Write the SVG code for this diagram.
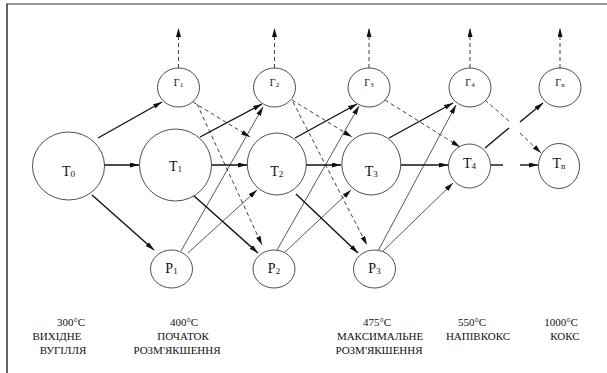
<svg xmlns="http://www.w3.org/2000/svg" width="607" height="373" viewBox="0 0 607 373">
<style>
.nd{fill:#fff;stroke:#222;stroke-width:0.8}
.lb{font-family:"Liberation Serif","DejaVu Serif",serif;fill:#111;text-anchor:middle}
.big{font-size:14px}
.sm{font-size:10px}
.tx{font-family:"Liberation Serif","DejaVu Serif",serif;font-size:11px;fill:#111;text-anchor:middle}
.thick{stroke:#111;stroke-width:1.4;fill:none}
.thin{stroke:#111;stroke-width:0.7;fill:none}
.dash{stroke:#111;stroke-width:0.8;fill:none;stroke-dasharray:4 3}
</style>
<defs>
<marker id="ah" markerUnits="userSpaceOnUse" markerWidth="10" markerHeight="6" refX="9" refY="2.5" orient="auto"><path d="M0,0 L9,2.5 L0,5 Z" fill="#111"/></marker>
</defs>
<rect x="0" y="0" width="607" height="373" fill="#fff"/>
<line x1="6" y1="4" x2="607" y2="4" stroke="#777" stroke-width="1.5"/>
<line x1="7" y1="4" x2="7" y2="373" stroke="#333" stroke-width="1.5"/>

<g id="connectors">
<path class="thick" d="M98,138 L162,102" marker-end="url(#ah)"/>
<path class="thick" d="M104,165 L139,165" marker-end="url(#ah)"/>
<path class="thick" d="M92,195 L154,250" marker-end="url(#ah)"/>
<path class="thick" d="M200,137 L262,104" marker-end="url(#ah)"/>
<path class="thick" d="M212,165 L247,165" marker-end="url(#ah)"/>
<path class="thick" d="M193,195 L258,253" marker-end="url(#ah)"/>
<path class="thick" d="M295,138 L357,104" marker-end="url(#ah)"/>
<path class="thick" d="M306,165 L341,165" marker-end="url(#ah)"/>
<path class="thick" d="M296,194 L358,253" marker-end="url(#ah)"/>
<path class="thick" d="M389,138 L453,103" marker-end="url(#ah)"/>
<path class="thick" d="M401,165 L448,165" stroke-width="1.9" marker-end="url(#ah)"/>
<path class="thick" d="M485,148 L509,128"/>
<path class="thick" d="M520,122 L543,103" marker-end="url(#ah)"/>
<path class="thick" d="M491,165 L503,165"/>
<path class="thick" d="M520,165 L538,165" marker-end="url(#ah)"/>
<path class="thin" d="M181,251 L263,107" marker-end="url(#ah)"/>
<path class="thin" d="M188,253 L257,190" marker-end="url(#ah)"/>
<path class="thin" d="M277,250 L359,106" marker-end="url(#ah)"/>
<path class="thin" d="M285,252 L351,190" marker-end="url(#ah)"/>
<path class="thin" d="M378,251 L456,105" marker-end="url(#ah)"/>
<path class="thin" d="M382,252 L453,183" marker-end="url(#ah)"/>
<path class="dash" d="M193,102 L250,137" marker-end="url(#ah)"/>
<path class="dash" d="M197,104 L262,245" marker-end="url(#ah)"/>
<path class="dash" d="M292,100 L352,137" marker-end="url(#ah)"/>
<path class="dash" d="M293,102 L367,245" marker-end="url(#ah)"/>
<path class="dash" d="M385,100 L460,147" marker-end="url(#ah)"/>
<path class="dash" d="M485,100 L510,122"/>
<path class="dash" d="M520,133 L541,153" marker-end="url(#ah)"/>
<path class="dash" d="M178.5,68 L178.5,28" marker-end="url(#ah)"/>
<path class="dash" d="M274.5,68 L274.5,28" marker-end="url(#ah)"/>
<path class="dash" d="M369,68 L369,28" marker-end="url(#ah)"/>
<path class="dash" d="M470,68 L470,28" marker-end="url(#ah)"/>
<path class="dash" d="M560,68 L560,28" marker-end="url(#ah)"/>
</g>

<g id="G1"><ellipse class="nd" cx="178.5" cy="87.5" rx="21" ry="19.5"/><text class="lb sm" x="178.5" y="86">Г<tspan font-size="7" dy="1">1</tspan></text></g>
<g id="G2"><ellipse class="nd" cx="274.5" cy="87.5" rx="21" ry="19.5"/><text class="lb sm" x="274.5" y="86">Г<tspan font-size="7" dy="1">2</tspan></text></g>
<g id="G3"><ellipse class="nd" cx="369" cy="87.5" rx="21" ry="19.5"/><text class="lb sm" x="369" y="86">Г<tspan font-size="7" dy="1">3</tspan></text></g>
<g id="G4"><ellipse class="nd" cx="470" cy="87.5" rx="21" ry="19.5"/><text class="lb sm" x="470" y="86">Г<tspan font-size="7" dy="1">4</tspan></text></g>
<g id="Gn"><ellipse class="nd" cx="560" cy="87.5" rx="21" ry="19.5"/><text class="lb sm" x="560" y="86">Г<tspan font-size="7" dy="1">n</tspan></text></g>

<g id="T0"><ellipse class="nd" cx="68.5" cy="166" rx="36" ry="34"/><text class="lb big" x="68.5" y="176">Т<tspan font-size="9" dy="1">0</tspan></text></g>
<g id="T1"><ellipse class="nd" cx="175.5" cy="165" rx="36" ry="36"/><text class="lb big" x="175.5" y="171">Т<tspan font-size="9" dy="1">1</tspan></text></g>
<g id="T2"><ellipse class="nd" cx="276.8" cy="164" rx="29.5" ry="31"/><text class="lb big" x="276.8" y="176">Т<tspan font-size="9" dy="1">2</tspan></text></g>
<g id="T3"><ellipse class="nd" cx="371.3" cy="164" rx="29.5" ry="31"/><text class="lb big" x="371.3" y="176">Т<tspan font-size="9" dy="1">3</tspan></text></g>
<g id="T4"><ellipse class="nd" cx="469.5" cy="166" rx="21" ry="22"/><text class="lb big" x="469.5" y="168">Т<tspan font-size="9" dy="1">4</tspan></text></g>
<g id="Tn"><ellipse class="nd" cx="559" cy="166" rx="20.5" ry="22.5"/><text class="lb big" x="559" y="168">Т<tspan font-size="9" dy="1">n</tspan></text></g>

<g id="P1"><ellipse class="nd" cx="171.5" cy="269" rx="21" ry="19"/><text class="lb big" x="171.5" y="273">Р<tspan font-size="9" dy="1">1</tspan></text></g>
<g id="P2"><ellipse class="nd" cx="274" cy="269" rx="21" ry="19"/><text class="lb big" x="274" y="273">Р<tspan font-size="9" dy="1">2</tspan></text></g>
<g id="P3"><ellipse class="nd" cx="374.5" cy="269" rx="21" ry="19"/><text class="lb big" x="374.5" y="273">Р<tspan font-size="9" dy="1">3</tspan></text></g>

<g id="labels">
<text class="tx" x="71" y="326">300°C</text>
<text class="tx" x="57" y="340">ВИХІДНЕ</text>
<text class="tx" x="63" y="354">ВУГІЛЛЯ</text>
<text class="tx" x="184" y="326">400°C</text>
<text class="tx" x="183" y="340">ПОЧАТОК</text>
<text class="tx" x="177" y="354">РОЗМ'ЯКШЕННЯ</text>
<text class="tx" x="377" y="326">475°C</text>
<text class="tx" x="380" y="340">МАКСИМАЛЬНЕ</text>
<text class="tx" x="379" y="354">РОЗМ'ЯКШЕННЯ</text>
<text class="tx" x="472" y="326">550°C</text>
<text class="tx" x="478" y="340">НАПІВКОКС</text>
<text class="tx" x="561" y="326">1000°C</text>
<text class="tx" x="565" y="340">КОКС</text>
</g>
</svg>
